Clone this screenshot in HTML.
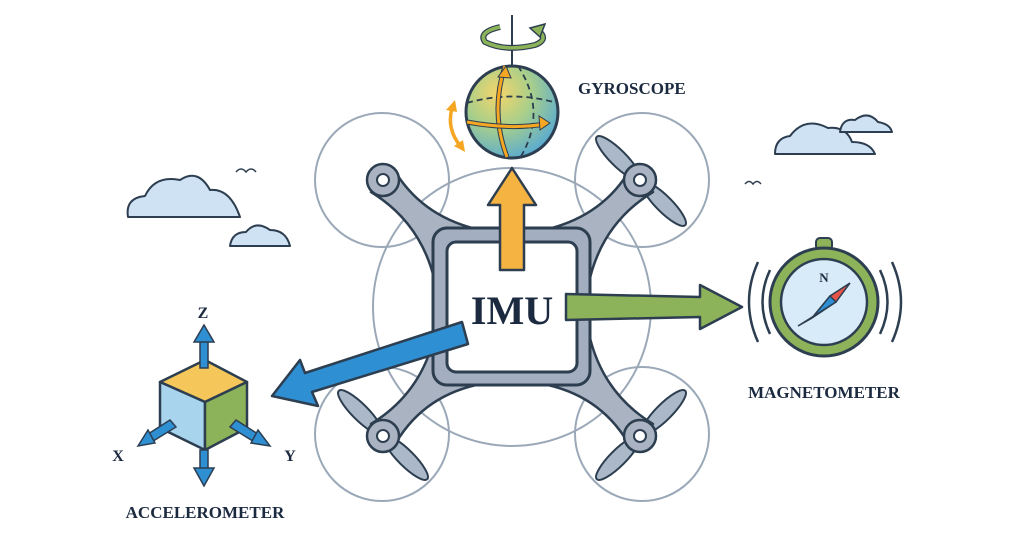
<!DOCTYPE html>
<html><head><meta charset="utf-8"><style>
html,body{margin:0;padding:0;background:#fff;}
svg{display:block}
text{font-family:"Liberation Serif",serif;font-weight:bold;fill:#1c2a40}
</style></head><body>
<svg width="1024" height="559" viewBox="0 0 1024 559" xmlns="http://www.w3.org/2000/svg">
<defs>
<radialGradient id="gl" cx="0.35" cy="0.3" r="0.8">
<stop offset="0" stop-color="#f5d56a"/><stop offset="0.45" stop-color="#a9cf8a"/><stop offset="1" stop-color="#4ea6dc"/>
</radialGradient>
</defs>
<g fill="none" stroke="#9aa8b8" stroke-width="2">
<circle cx="382" cy="180" r="67"/><circle cx="642" cy="180" r="67"/>
<circle cx="382" cy="434" r="67"/><circle cx="642" cy="434" r="67"/>
<circle cx="512" cy="307" r="139"/>
</g>
<!-- clouds -->
<g fill="#cfe2f3" stroke="#2c3e50" stroke-width="2" stroke-linejoin="round">
<path d="M128 217 Q125 198 145 196 Q155 175 180 180 Q198 168 210 190 Q230 188 240 217 Z"/>
<path d="M230 246 Q232 232 246 232 Q256 220 270 230 Q286 230 290 246 Z"/>
<path d="M775 154 Q775 138 790 136 Q805 116 828 128 Q846 126 852 142 Q870 142 875 154 Z"/>
<path d="M840 132 Q842 118 855 120 Q868 110 878 122 Q890 124 892 132 Z"/>
</g>
<g fill="none" stroke="#2c3e50" stroke-width="1.5"><path d="M236 172 q5 -6 10 0 q5 -6 10 0"/><path d="M745 184 q4 -5 8 0 q4 -5 8 0"/></g>
<!-- propellers behind -->
<g fill="#aab8c8" stroke="#2c3e50" stroke-width="2">
<ellipse cx="618" cy="158" rx="30" ry="8" transform="rotate(45 618 158)"/>
<ellipse cx="664" cy="204" rx="30" ry="8" transform="rotate(45 664 204)"/>
<ellipse cx="360" cy="412" rx="30" ry="8" transform="rotate(45 360 412)"/>
<ellipse cx="406" cy="458" rx="30" ry="8" transform="rotate(45 406 458)"/>
<ellipse cx="618" cy="458" rx="30" ry="8" transform="rotate(-45 618 458)"/>
<ellipse cx="664" cy="412" rx="30" ry="8" transform="rotate(-45 664 412)"/>
</g>
<!-- drone arms -->
<g stroke="#2c3e50" stroke-width="2.5" stroke-linejoin="round" fill="#aab3c1">
<path d="M476 229 Q420 215 393 168 L371 192 Q420 222 434 278 Z"/>
<path d="M548 229 Q604 215 631 168 L653 192 Q604 222 590 278 Z"/>
<path d="M476 385 Q420 398 393 448 L371 424 Q420 394 434 338 Z"/>
<path d="M548 385 Q604 398 631 448 L653 424 Q604 394 590 338 Z"/>
<circle cx="383" cy="180" r="16"/><circle cx="640" cy="180" r="16"/>
<circle cx="383" cy="436" r="16"/><circle cx="640" cy="436" r="16"/>
</g>
<g fill="#fff" stroke="#2c3e50" stroke-width="2">
<circle cx="383" cy="180" r="6"/><circle cx="640" cy="180" r="6"/>
<circle cx="383" cy="436" r="6"/><circle cx="640" cy="436" r="6"/>
</g>
<!-- body -->
<rect x="433" y="228" width="157" height="157" rx="14" fill="#a3afc0" stroke="#2c3e50" stroke-width="3"/>
<rect x="447" y="242" width="130" height="130" rx="9" fill="#fff" stroke="#2c3e50" stroke-width="3"/>
<!-- orange arrow -->
<path d="M500 270 L500 205 L488 205 L512 168 L536 205 L524 205 L524 270 Z" fill="#f5b342" stroke="#2c3e50" stroke-width="2.5" stroke-linejoin="round"/>
<text x="512" y="324" font-size="40" text-anchor="middle">IMU</text>
<!-- green arrow -->
<path d="M566 294 L700 297 L700 285 L742 307 L700 329 L700 317 L566 320 Z" fill="#8db35a" stroke="#2c3e50" stroke-width="2.5" stroke-linejoin="round"/>
<!-- blue arrow -->
<path d="M462 322 L468 344 L312 392 L318 406 L272 396 L300 360 L305 373 Z" fill="#2f8fd3" stroke="#2c3e50" stroke-width="2.5" stroke-linejoin="round"/>
<!-- globe -->
<circle cx="512" cy="112" r="46" fill="url(#gl)" stroke="#2c3e50" stroke-width="3"/>
<g fill="none" stroke="#2c3e50" stroke-width="1.8" stroke-dasharray="6 4">
<path d="M518 66 Q548 112 520 158"/><path d="M467 103 Q512 90 557 103"/>
</g>
<path d="M507 157 Q490 112 505 66" fill="none" stroke="#2c3e50" stroke-width="5"/>
<path d="M507 157 Q490 112 505 66" fill="none" stroke="#f5a623" stroke-width="3"/>
<path d="M467 122 Q510 130 545 124" fill="none" stroke="#2c3e50" stroke-width="5"/>
<path d="M467 122 Q510 130 545 124" fill="none" stroke="#f5a623" stroke-width="3"/>
<path d="M550 123 l-11 -7 l1 14z" fill="#f5a623" stroke="#2c3e50" stroke-width="1"/>
<path d="M506 66 l-8 11 l13 1z" fill="#f5a623" stroke="#2c3e50" stroke-width="1"/>
<path d="M452 108 Q446 130 462 148" fill="none" stroke="#f5a623" stroke-width="3.5"/>
<path d="M455 100 l-9 10 l11 2z M465 152 l-2 -12 l-9 6z" fill="#f5a623"/>
<line x1="512" y1="15" x2="512" y2="66" stroke="#2c3e50" stroke-width="2"/>
<path d="M500 27 Q478 32 485 42 Q505 52 535 45 Q548 40 540 32" fill="none" stroke="#2c3e50" stroke-width="6"/>
<path d="M500 27 Q478 32 485 42 Q505 52 535 45 Q548 40 540 32" fill="none" stroke="#8db35a" stroke-width="3.5"/>
<path d="M530 28 L545 24 L540 37 Z" fill="#8db35a" stroke="#2c3e50" stroke-width="1.5"/>
<text x="578" y="94" font-size="17">GYROSCOPE</text>
<!-- compass -->
<g fill="none" stroke="#2c3e50" stroke-width="2.5">
<path d="M770 270 Q755 302 770 334"/><path d="M758 262 Q740 302 758 342"/>
<path d="M880 270 Q895 302 880 334"/><path d="M892 262 Q910 302 892 342"/>
</g>
<rect x="816" y="238" width="16" height="12" rx="4" fill="#8db35a" stroke="#2c3e50" stroke-width="2"/>
<circle cx="824" cy="302" r="54" fill="#8db35a" stroke="#2c3e50" stroke-width="3"/>
<circle cx="824" cy="302" r="43" fill="#d8ebf8" stroke="#2c3e50" stroke-width="2.5"/>
<path d="M812 318 L830 296 L850 283 L836 302 Z" fill="#e8534a" stroke="#2c3e50" stroke-width="1.5"/>
<path d="M812 318 L830 296 L836 302 L798 326 Z" fill="#2f8fd3" stroke="#2c3e50" stroke-width="1.5"/>
<text x="824" y="282" font-size="13" text-anchor="middle">N</text>
<text x="824" y="398" font-size="17" text-anchor="middle">MAGNETOMETER</text>
<!-- cube -->
<path d="M160 382 L205 360 L247 382 L205 402 Z" fill="#f5c75a" stroke="#2c3e50" stroke-width="2.5" stroke-linejoin="round"/>
<path d="M160 382 L205 402 L205 450 L160 428 Z" fill="#a9d4ee" stroke="#2c3e50" stroke-width="2.5" stroke-linejoin="round"/>
<path d="M205 402 L247 382 L247 428 L205 450 Z" fill="#8db35a" stroke="#2c3e50" stroke-width="2.5" stroke-linejoin="round"/>
<g stroke="#2c3e50" stroke-width="1.5" fill="#2f8fd3">
<rect x="200" y="340" width="8" height="28"/><path d="M194 342 L204 325 L214 342Z"/>
<rect x="200" y="450" width="8" height="20"/><path d="M194 468 L204 486 L214 468Z"/>
<path d="M170 420 L176 427 L150 443 L145 436Z"/><path d="M138 446 L148 430 L155 443Z"/>
<path d="M236 420 L230 427 L256 443 L261 436Z"/><path d="M270 446 L258 430 L251 443Z"/>
</g>
<text x="203" y="318" font-size="16" text-anchor="middle">Z</text>
<text x="118" y="461" font-size="16" text-anchor="middle">X</text>
<text x="290" y="461" font-size="16" text-anchor="middle">Y</text>
<text x="205" y="518" font-size="17" text-anchor="middle">ACCELEROMETER</text>
</svg>
</body></html>
